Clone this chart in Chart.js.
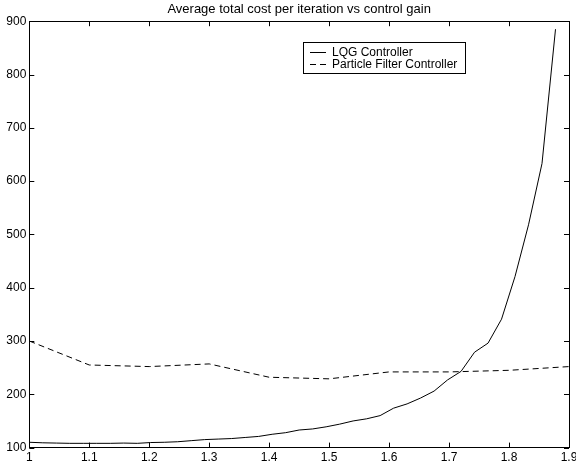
<!DOCTYPE html>
<html><head><meta charset="utf-8">
<script src="https://cdn.jsdelivr.net/npm/chart.js@4/dist/chart.umd.min.js"></script>
<style>html,body{margin:0;padding:0;background:#fff}canvas{display:block}</style>
</head><body>
<canvas id="c" width="576" height="471"></canvas>
<script>
const chartTitle = 'Average total cost per iteration vs control gain';
const seriesNames = ['LQG Controller', 'Particle Filter Controller'];
const lqgGain = [1.0, 1.0225, 1.045, 1.0675, 1.09, 1.1125, 1.135, 1.1575, 1.18, 1.2025,
                 1.225, 1.2475, 1.27, 1.2925, 1.315, 1.3375, 1.36, 1.3825, 1.405, 1.4275,
                 1.45, 1.4725, 1.495, 1.5175, 1.54, 1.5625, 1.585, 1.6075, 1.63, 1.6525,
                 1.675, 1.6975, 1.72, 1.7425, 1.765, 1.7875, 1.81, 1.8325, 1.855, 1.8775];
const lqgCost = [110, 109, 108.5, 108, 108, 108, 108, 108.5, 108, 109.5,
                 110, 111, 113, 115, 116, 117, 119, 121, 125, 128,
                 133, 135, 139, 144, 150, 154, 160, 174, 182, 193,
                 206, 227, 243, 279, 296, 341, 421, 518, 633, 885];
const pfGain = [1.0, 1.1, 1.2, 1.3, 1.4, 1.5, 1.6, 1.7, 1.8, 1.9];
const pfCost = [300, 255, 252, 257, 232, 229, 242, 242, 245, 252];
const xTickValues = [1, 1.1, 1.2, 1.3, 1.4, 1.5, 1.6, 1.7, 1.8, 1.9];
const xTickLabels = ['1', '1.1', '1.2', '1.3', '1.4', '1.5', '1.6', '1.7', '1.8', '1.9'];
const yTickValues = [100, 200, 300, 400, 500, 600, 700, 800, 900];

const FONT = 'Liberation Sans, Arial, Helvetica, sans-serif';
Chart.defaults.font.family = FONT;
Chart.defaults.font.size = 12;
Chart.defaults.color = '#000';

function zip(xs, ys) { return xs.map((v, i) => ({x: v, y: ys[i]})); }

const frame = {
  id: 'frame',
  afterLayout(chart) {
    const t = chart.titleBlock, a = chart.chartArea;
    if (t) { t.left = a.left; t.right = a.right; t.width = a.right - a.left; }
  },
  afterDatasetsDraw(chart) {
    const {ctx, chartArea: a, scales: {x, y}} = chart;
    ctx.save();
    ctx.strokeStyle = '#000';
    ctx.lineWidth = 1;
    ctx.setLineDash([]);
    const L = 5;
    ctx.beginPath();
    x.ticks.forEach(t => {
      const px = Math.round(x.getPixelForValue(t.value)) + 0.5;
      ctx.moveTo(px, a.bottom); ctx.lineTo(px, a.bottom - L);
      ctx.moveTo(px, a.top); ctx.lineTo(px, a.top + L);
    });
    y.ticks.forEach(t => {
      const py = Math.round(y.getPixelForValue(t.value)) + 0.5;
      ctx.moveTo(a.left, py); ctx.lineTo(a.left + L, py);
      ctx.moveTo(a.right, py); ctx.lineTo(a.right - L, py);
    });
    ctx.stroke();
    ctx.strokeRect(Math.round(a.left) + 0.5, Math.round(a.top) + 0.5,
                   Math.round(a.right - a.left), Math.round(a.bottom - a.top));

    // legend box
    const bx = 303.5, by = 42.5, bw = 162, bh = 31;
    ctx.fillStyle = '#fff';
    ctx.fillRect(bx, by, bw, bh);
    ctx.strokeRect(bx, by, bw, bh);
    ctx.font = '12px ' + FONT;
    ctx.fillStyle = '#000';
    ctx.textBaseline = 'middle';
    ctx.textAlign = 'left';
    chart.data.datasets.forEach((ds, i) => {
      const ry = by + 9.5 + i * 12;
      ctx.beginPath();
      ctx.setLineDash(ds.borderDash || []);
      ctx.strokeStyle = ds.borderColor;
      ctx.moveTo(310, Math.round(ry) + 0.5);
      ctx.lineTo(326, Math.round(ry) + 0.5);
      ctx.stroke();
      ctx.setLineDash([]);
      ctx.fillText(ds.label, 332, ry + 1);
    });
    ctx.restore();
  }
};

new Chart(document.getElementById('c'), {
  type: 'line',
  data: {
    datasets: [
      {label: seriesNames[0], data: zip(lqgGain, lqgCost), borderColor: '#000', borderWidth: 1,
       pointRadius: 0, fill: false, tension: 0},
      {label: seriesNames[1], data: zip(pfGain, pfCost), borderColor: '#000', borderWidth: 1,
       borderDash: [6, 4], pointRadius: 0, fill: false, tension: 0}
    ]
  },
  options: {
    responsive: false,
    animation: false,
    devicePixelRatio: 1,
    layout: {padding: {left: 0, right: 7, top: 0, bottom: 0}},
    plugins: {
      legend: {display: false},
      tooltip: {enabled: false},
      title: {display: true, text: chartTitle, color: '#000',
              font: {size: 13, weight: 'normal', family: FONT, lineHeight: 1.2},
              padding: {top: 2, bottom: 3.6}}
    },
    scales: {
      x: {
        type: 'linear', min: 1, max: 1.9,
        grid: {display: false, drawTicks: false},
        border: {display: false},
        afterBuildTicks: s => { s.ticks = xTickValues.map(v => ({value: v})); },
        ticks: {padding: 3, maxRotation: 0, autoSkip: false, color: '#000',
                callback: (v) => { const i = xTickValues.findIndex(t => Math.abs(t - v) < 1e-9); return i >= 0 ? xTickLabels[i] : ''; }},
        afterFit: s => { s.height = 23.4; s.paddingLeft = 0; s.paddingRight = 0; }
      },
      y: {
        type: 'linear', min: 100, max: 900,
        grid: {display: false, drawTicks: false},
        border: {display: false},
        afterBuildTicks: s => { s.ticks = yTickValues.map(v => ({value: v})); },
        ticks: {padding: 3, color: '#000', callback: v => String(v)},
        afterFit: s => { s.width = 29.3; s.paddingTop = 0; s.paddingBottom = 0; }
      }
    }
  },
  plugins: [frame]
});
</script>
</body></html>
